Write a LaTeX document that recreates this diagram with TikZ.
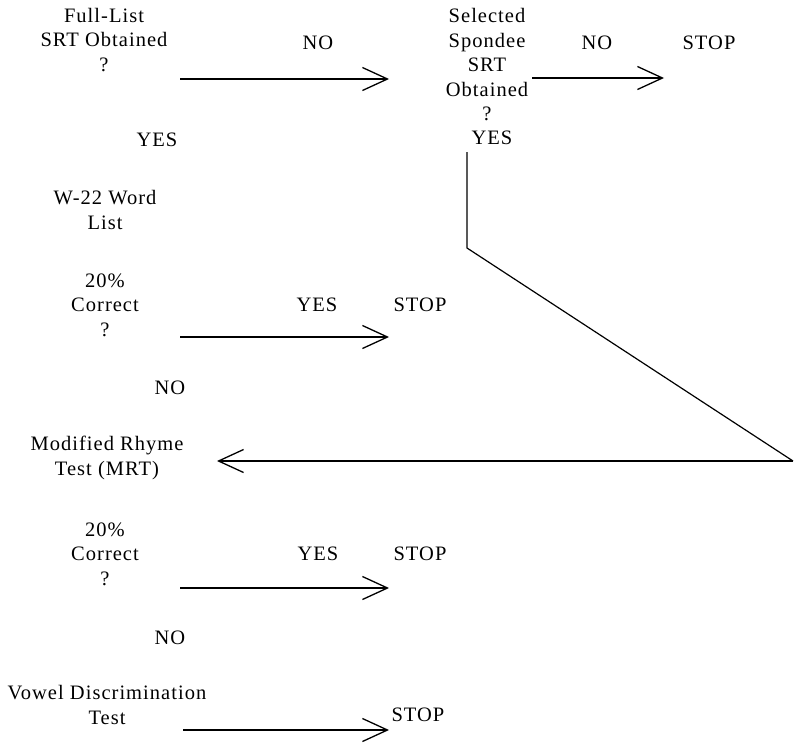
\documentclass[tikz,border=0pt]{standalone}
\usepackage{fontspec}
\setmainfont[LetterSpace=5]{Liberation Serif}
\usetikzlibrary{arrows.meta}
\begin{document}
\begin{tikzpicture}[x=1pt,y=-1pt,
  lbl/.style={font=\fontsize{20.5}{24.5}\selectfont, align=center, inner sep=1pt},
  flow/.style={line width=1.4pt, -{Straight Barb[length=25pt,width=23pt,line width=1.3pt]}},
  thin/.style={line width=1.2pt}]
\useasboundingbox (0,0) rectangle (794,742);
% texts
\node[lbl] (q1) at (104,40) {Full-List\\SRT Obtained\\?};
\node[lbl] (no1) at (318,43) {NO};
\node[lbl] (q2) at (487,65) {Selected\\Spondee\\SRT\\Obtained\\?};
\node[lbl] (yes2) at (492,138) {YES};
\node[lbl] (no2) at (597,43) {NO};
\node[lbl] (stop1) at (709,43) {STOP};
\node[lbl] (yes1) at (157,140) {YES};
\node[lbl] (w22) at (105,210) {W-22 Word\\List};
\node[lbl] (q3) at (105,305) {20\%\\Correct\\?};
\node[lbl] (yes3) at (317,305) {YES};
\node[lbl] (stop2) at (420,305) {STOP};
\node[lbl] (no3) at (170,388) {NO};
\node[lbl] (mrt) at (107,458) {Modified Rhyme\\Test (MRT)};
\node[lbl] (q4) at (105,554) {20\%\\Correct\\?};
\node[lbl] (yes4) at (318,554) {YES};
\node[lbl] (stop3) at (420,554) {STOP};
\node[lbl] (no4) at (170,638) {NO};
\node[lbl] (vdt) at (107,705) {Vowel Discrimination\\Test};
\node[lbl] (stop4) at (418,715) {STOP};
% connector end points
\coordinate (a1s) at (180,79);  \coordinate (a1e) at (389,79);
\coordinate (a2s) at (532,78);  \coordinate (a2e) at (664,78);
\coordinate (a3s) at (180,337); \coordinate (a3e) at (389,337);
\coordinate (rv1) at (467,152); \coordinate (rv2) at (467,248);
\coordinate (rv3) at (793,461); \coordinate (rv4) at (217,461);
\coordinate (a5s) at (180,588); \coordinate (a5e) at (389,588);
\coordinate (a6s) at (183,730); \coordinate (a6e) at (389,730);
% connectors
\draw[flow] (a1s) -- (a1e);
\draw[flow] (a2s) -- (a2e);
\draw[flow] (a3s) -- (a3e);
\draw[thin] (rv1) -- (rv2) -- (rv3);
\draw[flow] (rv3) -- (rv4);
\draw[flow] (a5s) -- (a5e);
\draw[flow] (a6s) -- (a6e);
\end{tikzpicture}
\end{document}
